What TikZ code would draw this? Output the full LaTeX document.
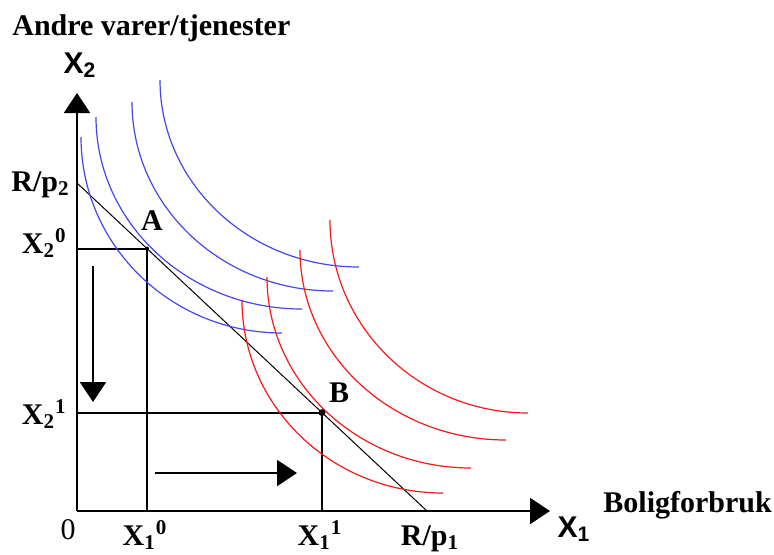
\documentclass[tikz,border=0pt]{standalone}
\usepackage{fontspec}
\setmainfont{Liberation Serif}
\setsansfont{Liberation Sans}
\usetikzlibrary{arrows.meta,calc}
\definecolor{icblue}{RGB}{70,70,235}
\definecolor{icred}{RGB}{245,25,25}
\tikzset{
  lbl/.style={font=\fontsize{15}{18}\selectfont\bfseries, inner sep=0pt},
  axlbl/.style={font=\fontsize{15}{18}\selectfont\sffamily\bfseries, inner sep=0pt},
  helpline/.style={line width=1pt},
  bluecurve/.style={icblue, line width=0.6pt},
  redcurve/.style={icred, line width=0.6pt}
}
\begin{document}
\begin{tikzpicture}[x=0.5pt, y=0.5pt, >={Triangle[length=10pt,width=13pt]}, line join=round]
  \useasboundingbox (-77,-43) rectangle (697,511);

  % Axes
  \coordinate (O) at (0,0);
  \coordinate (Xtip) at (473,0);
  \coordinate (Ytip) at (0,418);
  \draw[->, line width=1pt] (O) -- (Xtip);
  \draw[->, line width=1pt] (O) -- (Ytip);

  % Budget line and optimum points
  \coordinate (R2) at (0,328);
  \coordinate (R1) at (350,0);
  \coordinate (A) at ($(R2)!0.2!(R1)$);
  \coordinate (B) at ($(R2)!0.7!(R1)$);
  \draw[line width=0.5pt] (R2) -- (R1);
  \draw[helpline] (A -| O) -- (A) -- (A |- O);
  \draw[helpline] (B -| O) -- (B) -- (B |- O);

  % Indifference curves, before
  \draw[bluecurve] (4,374) arc[start angle=180, end angle=270, x radius=201, y radius=196];
  \draw[bluecurve] (19,394) arc[start angle=180, end angle=270, x radius=206, y radius=192];
  \draw[bluecurve] (55,409) arc[start angle=180, end angle=270, x radius=201, y radius=189];
  \draw[bluecurve] (83,431) arc[start angle=180, end angle=270, x radius=199, y radius=187];

  % Indifference curves, after
  \draw[redcurve] (165,211) arc[start angle=180, end angle=270, x radius=201, y radius=193];
  \draw[redcurve] (190,234) arc[start angle=180, end angle=270, x radius=204, y radius=191];
  \draw[redcurve] (223,261) arc[start angle=180, end angle=270, x radius=206, y radius=190];
  \draw[redcurve] (253,291) arc[start angle=180, end angle=270, x radius=198, y radius=193];

  \fill (A) circle[radius=2];
  \fill (B) circle[radius=3.5];

  % Shift arrows
  \coordinate (downstart) at (16,245);
  \coordinate (downend) at (16,109);
  \coordinate (rightstart) at (78,38);
  \coordinate (rightend) at (220,38);
  \draw[->, line width=1pt] (downstart) -- (downend);
  \draw[->, line width=1pt] (rightstart) -- (rightend);

  % Labels
  \node[lbl, anchor=base west] (title) at (-65,476) {Andre varer/tjenester};
  \node[axlbl, anchor=base] (x2name) at (3,438) {X\textsubscript{2}};
  \node[axlbl, anchor=base] (x1name) at (497,-26) {X\textsubscript{1}};
  \node[lbl, anchor=base west] (bolig) at (526,-1) {Boligforbruk};
  \node[lbl, anchor=base east] (r2lbl) at (-7,320) {R/p\textsubscript{2}};
  \node[lbl, anchor=base east] (x20lbl) at (-10,258) {X\textsubscript{2}\textsuperscript{0}};
  \node[lbl, anchor=base east] (x21lbl) at (-10,87) {X\textsubscript{2}\textsuperscript{1}};
  \node[lbl, font=\fontsize{15}{18}\selectfont, anchor=base] (olbl) at (-9,-28) {0};
  \node[lbl, anchor=base] (x10lbl) at (68,-34) {X\textsubscript{1}\textsuperscript{0}};
  \node[lbl, anchor=base] (x11lbl) at (243,-34) {X\textsubscript{1}\textsuperscript{1}};
  \node[lbl, anchor=base] (r1lbl) at (353,-34) {R/p\textsubscript{1}};
  \node[lbl, anchor=base] (albl) at (75,281) {A};
  \node[lbl, anchor=base] (blbl) at (262,109) {B};
\end{tikzpicture}
\end{document}
